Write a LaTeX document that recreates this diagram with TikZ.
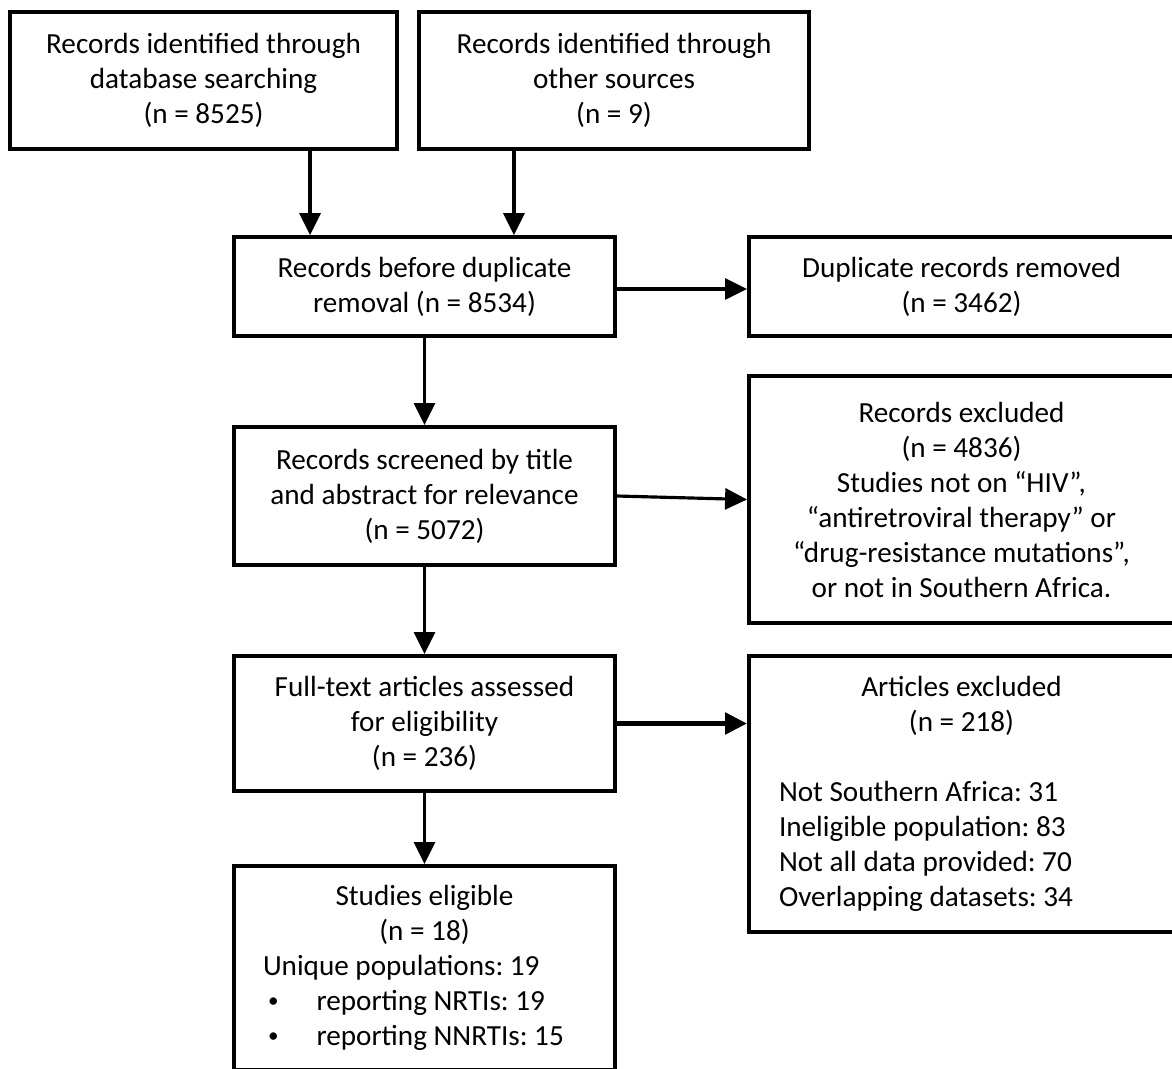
\documentclass[tikz,border=0pt]{standalone}
\usepackage{fontspec}
\setmainfont{Carlito}
\usetikzlibrary{arrows.meta}

\newcommand{\smbul}{\hspace*{0.05cm}\raisebox{0.2ex}{\fontsize{6}{6}\selectfont\textbullet}\hspace{0.38cm}}

\begin{document}
\begin{tikzpicture}[
    box/.style={draw, line width=1.1pt, align=center, inner sep=0pt,
      font=\fontsize{8.3}{9.96}\selectfont\frenchspacing},
    arr/.style={line width=0.9pt, -{Triangle[length=2.2mm, width=2.1mm]}}]
  \useasboundingbox (0,0) rectangle (11.72,-10.68);
  % identification
  \node[box, minimum width=3.87cm, minimum height=1.37cm] (recdb) at (2.035,-0.805)
    {Records identified through\\ database searching\\ (n = 8525)};
  \node[box, minimum width=3.90cm, minimum height=1.37cm] (recoth) at (6.14,-0.805)
    {Records identified through\\ other sources\\ (n = 9)};
  \node[box, minimum width=3.81cm, minimum height=0.99cm] (recall) at (4.245,-2.865)
    {Records before duplicate\\ removal (n = 8534)};
  \node[box, minimum width=4.25cm, minimum height=0.99cm] (dupl) at (9.615,-2.865)
    {Duplicate records removed\\ (n = 3462)};
  % screening
  \node[box, minimum width=3.81cm, minimum height=1.38cm] (screen) at (4.245,-4.96)
    {Records screened by title\\ and abstract for relevance\\ (n = 5072)};
  \node[box, minimum width=4.25cm, minimum height=2.47cm] (recexcl) at (9.615,-4.995)
    {Records excluded\\ (n = 4836)\\ Studies not on “HIV”,\\ “antiretroviral therapy” or\\ “drug-resistance mutations”,\\ or not in Southern Africa.};
  % eligibility
  \node[box, minimum width=3.81cm, minimum height=1.35cm] (fulltext) at (4.245,-7.235)
    {Full-text articles assessed\\ for eligibility\\ (n = 236)};
  \node[box, minimum width=4.25cm, minimum height=2.76cm, text width=3.65cm, align=flush left] (artexcl) at (9.615,-7.94)
    {{\centering Articles excluded\\ (n = 218)\\[9.96pt]\par}
     Not Southern Africa: 31\\ Ineligible population: 83\\ Not all data provided: 70\\ Overlapping datasets: 34};
  % included
  \node[box, minimum width=3.81cm, minimum height=2.04cm, text width=3.23cm, align=flush left] (incl) at (4.245,-9.68)
    {{\centering Studies eligible\\ (n = 18)\par}
     Unique populations: 19\\
     \smbul reporting NRTIs: 19\\
     \smbul reporting NNRTIs: 15};
  % connectors
  \draw[arr] ([xshift=0.78cm]recall.north west |- recdb.south) -- ([xshift=0.78cm]recall.north west);
  \draw[arr] ([xshift=-1.03cm]recall.north east |- recoth.south) -- ([xshift=-1.03cm]recall.north east);
  \draw[arr] ([yshift=-0.025cm]recall.east) -- ([yshift=-0.025cm]dupl.west);
  \draw[arr] (recall) -- (screen);
  \draw[arr] (screen.east) -- (recexcl.west);
  \draw[arr] (screen) -- (fulltext);
  \draw[arr, line width=1.5pt] (fulltext.east) -- (fulltext.east -| artexcl.west);
  \draw[arr] (fulltext) -- (incl);
\end{tikzpicture}
\end{document}
